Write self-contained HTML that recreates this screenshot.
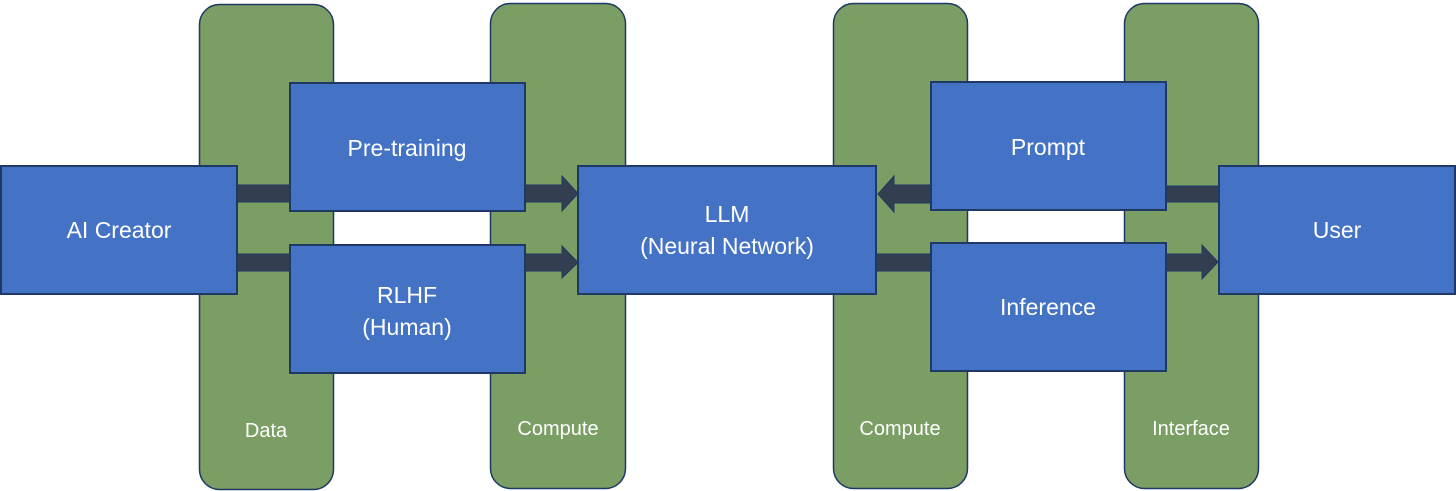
<!DOCTYPE html>
<html><head><meta charset="utf-8"><style>
html,body{margin:0;padding:0;background:#fff;}
svg{display:block;}
text{font-family:"Liberation Sans",sans-serif;fill:#fff;}
</style></head><body>
<svg width="1456" height="491" viewBox="0 0 1456 491" xmlns="http://www.w3.org/2000/svg">
<g fill="#7a9e63" stroke="#1f3864" stroke-width="1.5">
<rect x="199.5" y="4.5" width="134" height="485" rx="20"/>
<rect x="490.5" y="3.5" width="135" height="485" rx="20"/>
<rect x="833.5" y="3.5" width="134" height="485" rx="20"/>
<rect x="1124.5" y="3.5" width="134" height="485" rx="20"/>
</g>
<g fill="#333f50" stroke="#1f3864" stroke-width="1">
<rect x="236" y="185" width="56" height="17"/>
<rect x="236" y="254" width="56" height="17"/>
<polygon points="524,185 562,185 562,176 578,193.5 562,211 562,202 524,202"/>
<polygon points="524,254 562,254 562,246 578,262.5 562,278 562,271 524,271"/>
<polygon points="932,185 894,185 894,176 878,194 894,212 894,203 932,203"/>
<rect x="875" y="254" width="57" height="17"/>
<rect x="1165" y="186" width="56" height="16"/>
<polygon points="1165,254 1202,254 1202,245 1218,262 1202,279 1202,271 1165,271"/>
</g>
<g fill="#4472c4" stroke="#1f3864" stroke-width="2">
<rect x="1" y="166" width="236" height="128"/>
<rect x="290" y="83" width="235" height="128"/>
<rect x="290" y="245" width="235" height="128"/>
<rect x="578" y="166" width="298" height="128"/>
<rect x="931" y="82" width="235" height="128"/>
<rect x="931" y="243" width="235" height="128"/>
<rect x="1219" y="166" width="236" height="128"/>
</g>
<g font-size="23" text-anchor="middle">
<text x="119" y="238">AI Creator</text>
<text x="407" y="156">Pre-training</text>
<text x="407" y="303">RLHF</text>
<text x="407" y="335">(Human)</text>
<text x="727" y="222">LLM</text>
<text x="727" y="254">(Neural Network)</text>
<text x="1048" y="155">Prompt</text>
<text x="1048" y="315">Inference</text>
<text x="1337" y="238">User</text>
</g>
<g font-size="20" text-anchor="middle">
<text x="266" y="437">Data</text>
<text x="558" y="435">Compute</text>
<text x="900" y="435">Compute</text>
<text x="1191" y="435">Interface</text>
</g>
</svg>
</body></html>
